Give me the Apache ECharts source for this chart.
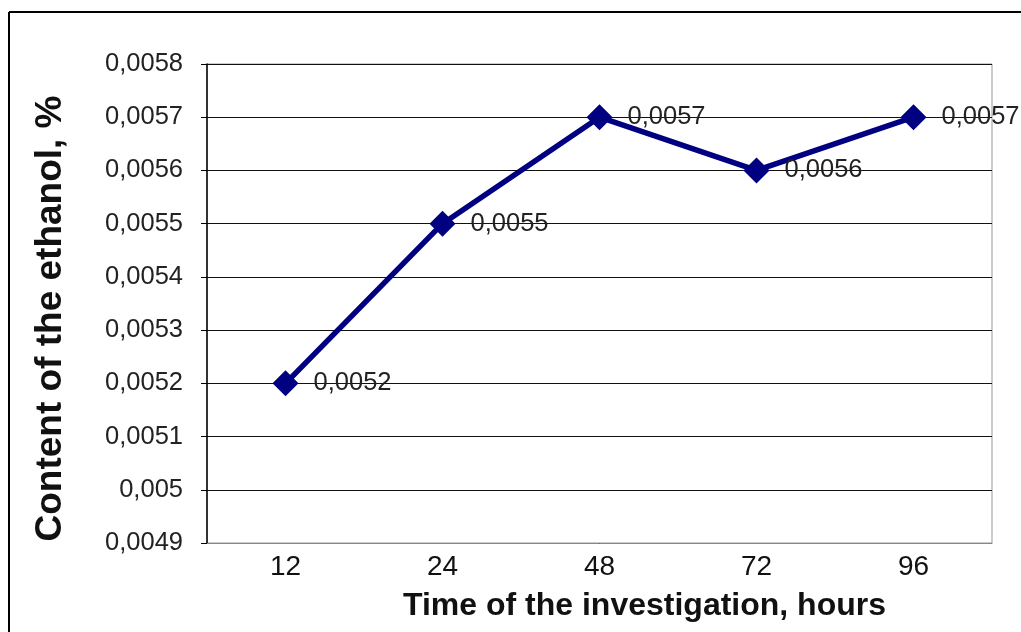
<!DOCTYPE html>
<html>
<head>
<meta charset="utf-8">
<script src="https://cdn.jsdelivr.net/npm/echarts@6/dist/echarts.min.js"></script>
<style>
html,body{margin:0;padding:0;background:#fff;}
#c{width:1021px;height:632px;}
</style>
</head>
<body>
<div id="c"></div>
<script>
var categories = ['12', '24', '48', '72', '96'];
var ethanolValues = [0.0052, 0.0055, 0.0057, 0.0056, 0.0057];
var yMin = 0.0049, yMax = 0.0058, yStep = 0.0001;
var xTitle = 'Time of the investigation, hours';
var yTitle = 'Content of the ethanol, %';

function fmt(v) {
  return String(parseFloat(Number(v).toFixed(4))).replace('.', ',');
}

var chart = echarts.init(document.getElementById('c'));
chart.setOption({
  backgroundColor: '#ffffff',
  animation: false,
  textStyle: { fontFamily: 'Liberation Sans, Arial, sans-serif' },
  graphic: [
    { type: 'line', shape: { x1: 9, y1: 12, x2: 1021, y2: 12 }, style: { stroke: '#000', lineWidth: 2 } },
    { type: 'line', shape: { x1: 9, y1: 12, x2: 9, y2: 632 }, style: { stroke: '#000', lineWidth: 2 } }
  ],
  grid: {
    left: 207, right: 29, top: 64, bottom: 89,
    show: true, borderColor: '#999', borderWidth: 1, backgroundColor: 'transparent'
  },
  xAxis: {
    type: 'category',
    data: categories,
    boundaryGap: true,
    axisLine: { lineStyle: { color: '#888', width: 1 } },
    axisTick: { show: false },
    axisLabel: { color: '#111', fontSize: 28, margin: 10, fontFamily: 'Liberation Sans, Arial, sans-serif' },
    name: xTitle,
    nameLocation: 'middle',
    nameGap: 47,
    nameTextStyle: { color: '#111', fontSize: 32, fontWeight: 'bold', padding: [0, 0, 0, 90], fontFamily: 'Liberation Sans, Arial, sans-serif' }
  },
  yAxis: {
    type: 'value',
    min: yMin, max: yMax, interval: yStep,
    axisLine: { show: true, lineStyle: { color: '#000', width: 1.5 } },
    axisTick: { show: true, length: 6, lineStyle: { color: '#000' } },
    splitLine: { show: true, lineStyle: { color: '#111', width: 1.2 } },
    axisLabel: { color: '#222', fontSize: 25.5, margin: 24, formatter: fmt, fontFamily: 'Liberation Sans, Arial, sans-serif' },
    name: yTitle,
    nameLocation: 'middle',
    nameGap: 138,
    nameTextStyle: { color: '#111', fontSize: 37, fontWeight: 'bold', padding: [0, 0, 0, -30], fontFamily: 'Liberation Sans, Arial, sans-serif' }
  },
  series: [{
    type: 'line',
    data: ethanolValues,
    symbol: 'diamond',
    symbolSize: 26,
    itemStyle: { color: '#000080' },
    lineStyle: { color: '#000080', width: 5.5 },
    label: {
      show: true, position: 'right', distance: 15,
      color: '#222', fontSize: 25.5, formatter: function (p) { return fmt(p.value); },
      fontFamily: 'Liberation Sans, Arial, sans-serif'
    }
  }]
});
</script>
</body>
</html>
